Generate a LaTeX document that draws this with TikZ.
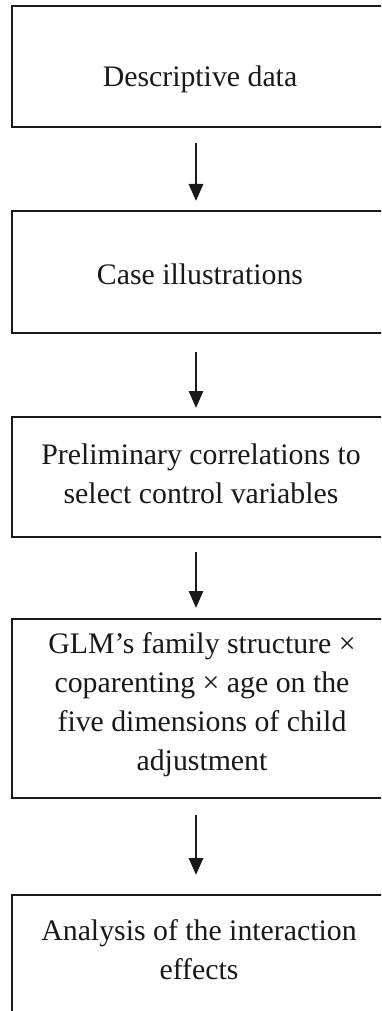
\documentclass[tikz,border=0pt]{standalone}
\usepackage{fontspec}
\setmainfont{Liberation Serif}
\usetikzlibrary{arrows.meta}
\begin{document}
\begin{tikzpicture}[x=1pt,y=1pt,
  box/.style={draw=black!90, line width=2.2pt, minimum width=374pt, anchor=north west, inner sep=0pt, outer sep=0pt},
  txt/.style={font=\fontsize{29.8}{39}\selectfont, align=center, inner sep=0pt, anchor=base, text=black!90},
  arr/.style={draw=black!90, line width=2.8pt, -{Triangle[width=14pt,length=17pt]}}]
\clip (0,0) rectangle (381,-1011);
\fill[white] (0,0) rectangle (381,-1011);
\node[box, minimum height=121pt] (b1) at (12,-6) {};
\node[box, minimum height=122pt] (b2) at (12,-211) {};
\node[box, minimum height=120pt] (b3) at (12,-417) {};
\node[box, minimum height=179pt] (b4) at (12,-619) {};
\node[box, minimum height=140pt] (b5) at (12,-895) {};
\node[txt] (t1) at (200,-87) {Descriptive data};
\node[txt] (t2) at (200,-284) {Case illustrations};
\node[txt] (t3) at (201,-503) {Preliminary correlations to\\select control variables};
\node[txt] (t4) at (202,-770) {GLM’s family structure ×\\coparenting × age on the\\five dimensions of child\\adjustment};
\node[txt] (t5) at (199,-979) {Analysis of the interaction\\effects};
\draw[arr] ([yshift=-16pt]b1.south -| 196,0) -- ([yshift=10pt]b2.north -| 196,0);
\draw[arr] ([yshift=-19pt]b2.south -| 196,0) -- ([yshift=9pt]b3.north -| 196,0);
\draw[arr] ([yshift=-15pt]b3.south -| 196,0) -- ([yshift=11pt]b4.north -| 196,0);
\draw[arr] ([yshift=-17pt]b4.south -| 196,0) -- ([yshift=20pt]b5.north -| 196,0);
\end{tikzpicture}
\end{document}
